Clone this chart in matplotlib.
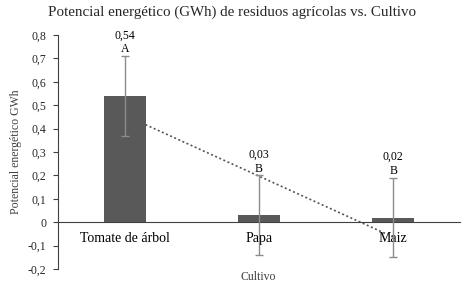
import matplotlib.pyplot as plt
import numpy as np

cultivos = ["Tomate de árbol", "Papa", "Maiz"]
potencial = [0.54, 0.03, 0.02]
error = [0.17, 0.17, 0.17]
etiquetas = ["0,54", "0,03", "0,02"]
letras = ["A", "B", "B"]
yticks = [-0.2, -0.1, 0, 0.1, 0.2, 0.3, 0.4, 0.5, 0.6, 0.7, 0.8]

fuente = "Liberation Serif"
plt.rcParams['font.family'] = ['Liberation Serif', 'DejaVu Serif']

fig = plt.figure(figsize=(4.62, 2.87), dpi=100)
ax = fig.add_axes([0.1255, 0.0627, 0.8705, 0.8153])

x = np.arange(1, len(cultivos) + 1)
ax.bar(x, potencial, width=0.31, color="#595959", zorder=3)
ax.errorbar(x, potencial, yerr=error, fmt="none", ecolor="#8c8c8c",
            elinewidth=1, capsize=3, capthick=1, zorder=4)

# linea de tendencia lineal
m, b = np.polyfit(x, potencial, 1)
ax.plot(x, m * x + b, linestyle=(0, (1.2, 1.5)), color="#555555", linewidth=1.2, zorder=2)

for xi, v, e, lab, let in zip(x, potencial, error, etiquetas, letras):
    ax.annotate(let, (xi, v + e), xytext=(0, 0.5), textcoords="offset points",
                ha="center", va="bottom", fontsize=8.5, family=fuente)
    ax.annotate(lab, (xi, v + e), xytext=(0, 10.5), textcoords="offset points",
                ha="center", va="bottom", fontsize=8.5, family=fuente)

ax.set_xlim(0.5, 3.5)
ax.set_ylim(-0.2, 0.8)
ax.set_yticks(yticks)
ax.set_yticklabels([("%.1f" % t).replace(".", ",") if t != 0 else "0" for t in yticks],
                   fontsize=8.5, family=fuente, color="#262626")
ax.set_xticks(x)
ax.set_xticklabels(cultivos, fontsize=8, family=fuente, color="#262626")
ax.tick_params(axis="x", length=0, pad=7)
ax.tick_params(axis="y", length=3.5, width=0.8, color="#404040", pad=5)

ax.spines["top"].set_visible(False)
ax.spines["right"].set_visible(False)
ax.spines["bottom"].set_position(("data", 0))
ax.spines["bottom"].set_color("#404040")
ax.spines["left"].set_color("#404040")

ax.set_ylabel("Potencial energético GWh", fontsize=8.5, family=fuente, color="#404040", labelpad=4)
fig.text(0.558, 0.035, "Cultivo", ha="center", va="center", fontsize=8.5, family=fuente, color="#404040")
fig.text(0.502, 0.958, "Potencial energético (GWh) de residuos agrícolas vs. Cultivo",
         ha="center", va="center", fontsize=10.8, family=fuente, color="#262626")

fig.savefig("out.png", dpi=100)
